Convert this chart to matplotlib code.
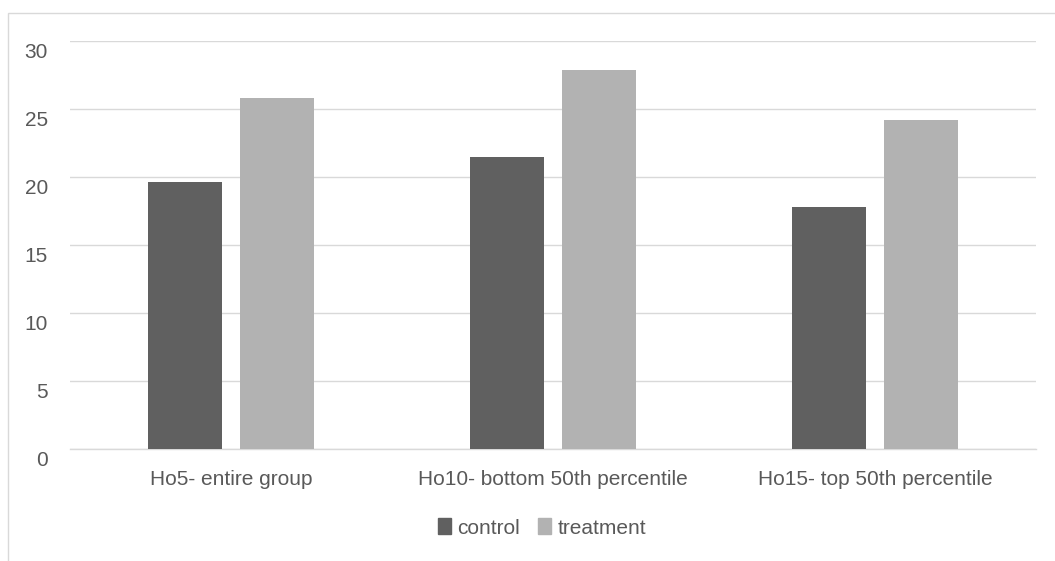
import matplotlib
matplotlib.use("Agg")
import matplotlib.pyplot as plt
from matplotlib.patches import Rectangle, Patch
from matplotlib.transforms import ScaledTranslation
import numpy as np

categories = ["Ho5- entire group", "Ho10- bottom 50th percentile", "Ho15- top 50th percentile"]
series_names = ["control", "treatment"]
control = [19.6, 21.5, 17.8]
treatment = [25.8, 27.9, 24.2]
yticks = [0, 5, 10, 15, 20, 25, 30]

plt.rcParams['font.family'] = ['Liberation Sans', 'DejaVu Sans']
W, H = 1055, 561
fig = plt.figure(figsize=(W/100, H/100), dpi=100)

# outer chart border
fig.patches.append(Rectangle((8/W, -0.1), 1.2, 1 - 13/H + 0.1, transform=fig.transFigure,
                             fill=False, edgecolor='#d9d9d9', linewidth=1.0))

ax = fig.add_axes([70/W, 1 - 449/H, (1036-70)/W, (449-41)/H])
x = np.arange(len(categories))
bw = 0.227
off = 0.143
ax.bar(x - off, control, width=bw, color='#606060', zorder=3, label=series_names[0])
ax.bar(x + off, treatment, width=bw, color='#b2b2b2', zorder=3, label=series_names[1])

ax.set_xlim(-0.5, 2.5)
ax.set_ylim(0, 30)
ax.set_yticks(yticks)
ax.set_yticklabels([str(v) for v in yticks])
ax.set_xticks(x)
ax.set_xticklabels(categories)
ax.yaxis.grid(True, color='#d9d9d9', linewidth=1.0, zorder=0)
ax.set_axisbelow(True)
for s in ['top', 'right', 'left']:
    ax.spines[s].set_visible(False)
ax.spines['bottom'].set_color('#d9d9d9')
ax.spines['bottom'].set_linewidth(1.0)
ax.tick_params(axis='both', length=0, colors='#595959', labelsize=15)
ax.tick_params(axis='y', pad=15.8)
ax.tick_params(axis='x', pad=15)
for lab in ax.get_yticklabels():
    lab.set_transform(lab.get_transform() + ScaledTranslation(0, -9/100, fig.dpi_scale_trans))

handles = [Patch(color='#606060'), Patch(color='#b2b2b2')]
fig.legend(handles, series_names, loc='center', bbox_to_anchor=(542/W, 1 - 528/H),
           ncol=2, frameon=False, fontsize=15, handlelength=0.6, handleheight=0.8,
           handletextpad=0.3, columnspacing=0.9, labelcolor='#595959')

fig.savefig("out.png", dpi=100)
